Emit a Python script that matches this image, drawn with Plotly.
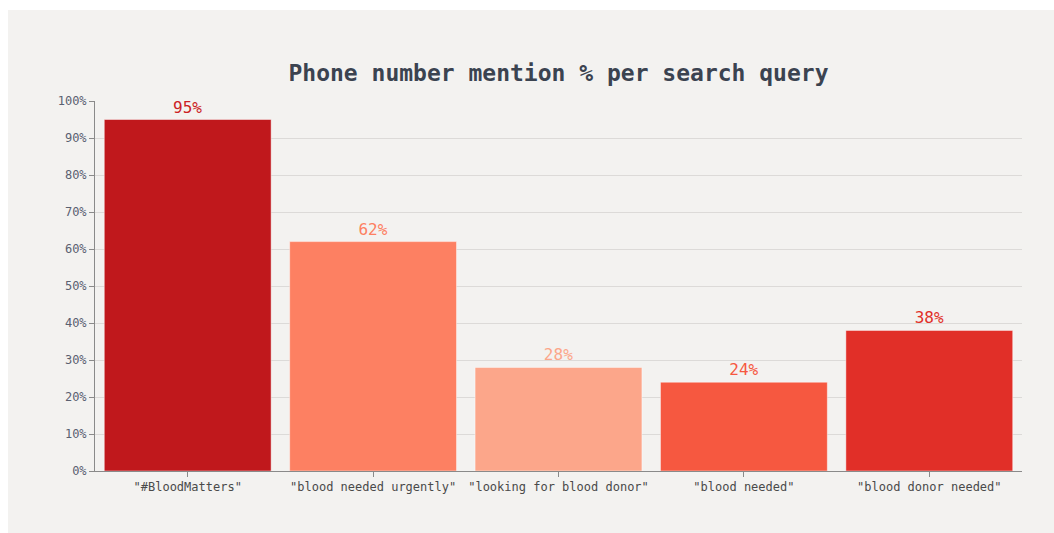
import plotly.graph_objects as go

# Search queries and share of results mentioning a phone number
queries = ['"#BloodMatters"', '"blood needed urgently"', '"looking for blood donor"',
           '"blood needed"', '"blood donor needed"']
mention_pct = [95, 62, 28, 24, 38]
bar_colors = ["#c0181c", "#fd8062", "#fca68a", "#f65840", "#e12f28"]
label_colors = ["#cc1f26", "#fd8062", "#fca68a", "#f65840", "#e12f28"]
y_ticks = list(range(0, 101, 10))
y_tick_text = [f"{v}%" for v in y_ticks]

W, H = 1054, 533
L, R, T, B = 95, 32, 101, 62
pw, ph = W - L - R, H - T - B

def px_x(p):
    return (p - L) / pw

def px_y(p):
    return (H - B - p) / ph

fig = go.Figure(
    go.Bar(
        x=queries,
        y=mention_pct,
        marker=dict(color=bar_colors, line=dict(color="rgba(255,255,255,0.45)", width=1)),
        text=[f"{v}%" for v in mention_pct],
        textposition="outside",
        textfont=dict(family="DejaVu Sans Mono", size=16, color=label_colors),
        cliponaxis=False,
        hoverinfo="skip",
    )
)

fig.update_layout(
    width=W,
    height=H,
    margin=dict(l=L, r=R, t=T, b=B, pad=0),
    paper_bgcolor="white",
    plot_bgcolor="rgba(0,0,0,0)",
    bargap=0.1,
    showlegend=False,
    title=dict(
        text="<b>Phone number mention % per search query</b>",
        xref="paper", x=0.5, xanchor="center",
        yref="container", y=1 - 73 / H, yanchor="middle",
        font=dict(family="DejaVu Sans Mono", size=23, color="#3b4350"),
    ),
    shapes=[
        dict(type="rect", xref="paper", yref="paper", layer="below",
             x0=px_x(8), x1=px_x(W), y0=px_y(H), y1=px_y(10),
             fillcolor="#f3f2f0", line=dict(width=0)),
    ],
)

fig.update_xaxes(
    showline=True, linecolor="#8a8a8a", linewidth=1,
    ticks="outside", ticklen=5, tickcolor="#8a8a8a",
    tickfont=dict(family="DejaVu Sans Mono", size=12, color="#4a4a4a"),
    showgrid=False,
)
fig.update_yaxes(
    range=[0, 100],
    tickvals=y_ticks, ticktext=y_tick_text,
    showline=True, linecolor="#8a8a8a", linewidth=1,
    ticks="outside", ticklen=5, tickcolor="#8a8a8a",
    tickfont=dict(family="DejaVu Sans Mono", size=12, color="#5a6070"),
    showgrid=True, gridcolor="#dcdad8", gridwidth=1,
    zeroline=False,
)

fig.write_html("out.html")
